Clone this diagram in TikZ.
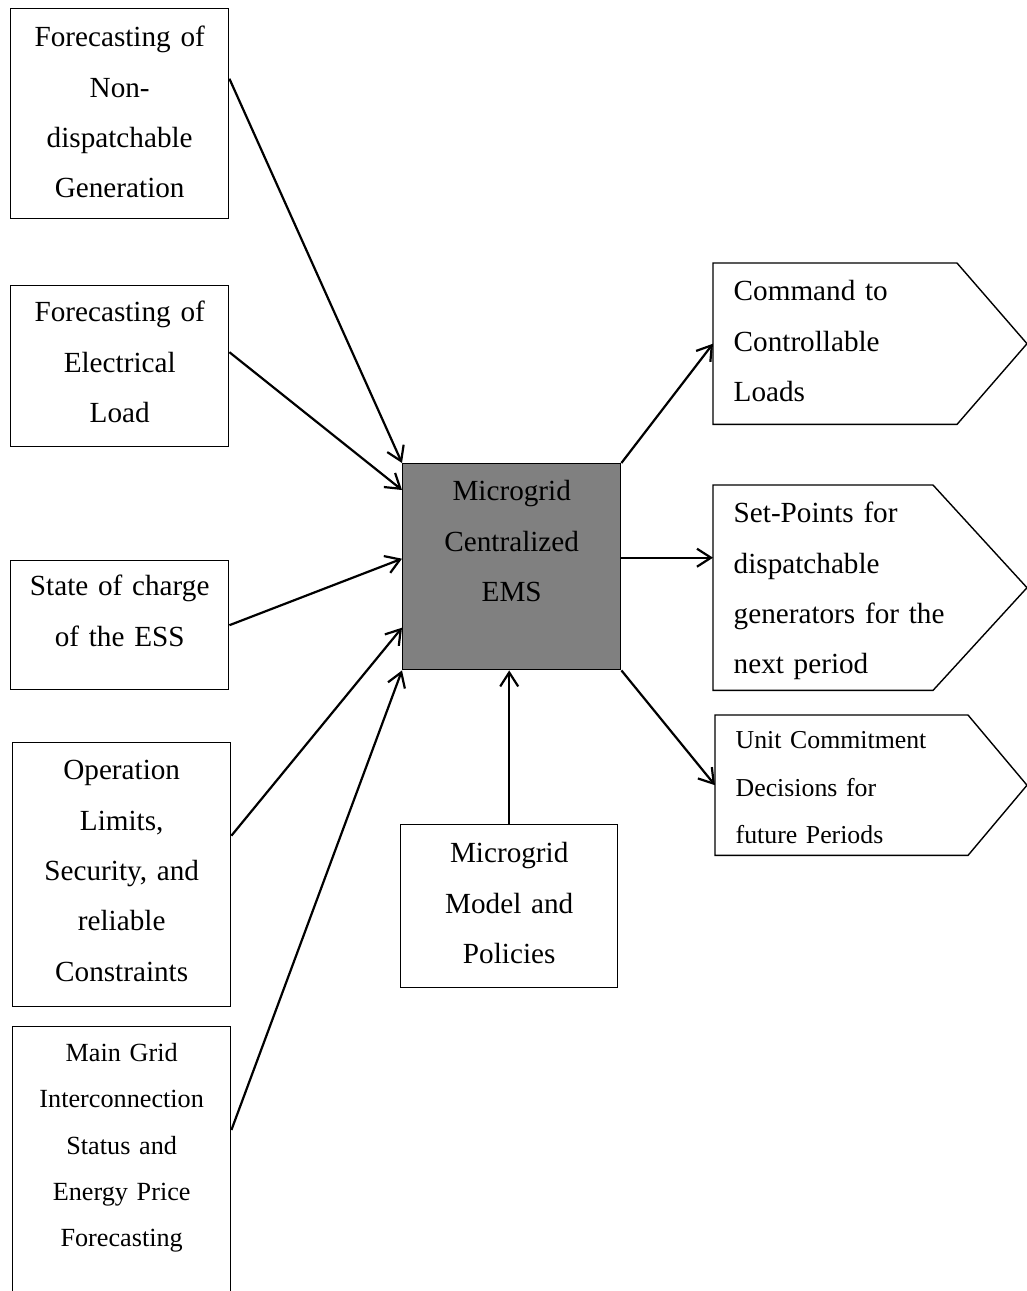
\documentclass[tikz,border=0pt]{standalone}
\usepackage{fontspec}
\setmainfont{Liberation Serif}
\usetikzlibrary{arrows.meta}

\begin{document}
\begin{tikzpicture}[x=0.5pt, y=-0.5pt,
                    every node/.style={inner sep=0pt, line width=0.7pt},
                    big/.style={font=\fontsize{14.6}{25.2}\selectfont},
                    small/.style={font=\fontsize{13.1}{23.1}\selectfont},
                    inbox/.style={draw, anchor=north west, text width=109pt, align=center},
                    outbox/.style={anchor=north west, text width=120pt, inner xsep=10pt, align=left},
                    link/.style={-{Straight Barb[length=7pt,width=9pt]}, line width=1.1pt}]
                \useasboundingbox (0,0) rectangle (1027,1291);

                % inputs
                \node[inbox, big, text height=19pt, text depth=86pt] (ndg) at (10,8)
                    {Forecasting of\\Non-\\dispatchable\\Generation};
                \node[inbox, big, text height=18pt, text depth=62.5pt] (load) at (10,285)
                    {Forecasting of\\Electrical\\Load};
                \node[inbox, big, text height=17.5pt, text depth=47pt] (soc) at (10,560)
                    {State of charge\\of the ESS};
                \node[inbox, big, text height=18.5pt, text depth=113.5pt] (lim) at (12,742)
                    {Operation\\Limits,\\Security, and\\reliable\\Constraints};
                \node[inbox, small, text height=17.5pt, text depth=130pt] (grid) at (12,1026)
                    {Main Grid\\Interconnection\\Status and\\Energy Price\\Forecasting};

                % EMS and model
                \node[inbox, big, fill=black!50, text height=18.5pt, text depth=84.5pt] (ems) at (402,463)
                    {Microgrid\\Centralized\\EMS};
                \node[inbox, big, text width=108.5pt, text height=19pt, text depth=62.5pt] (model) at (400,824)
                    {Microgrid\\Model and\\Policies};

                % outputs
                \node[outbox, big, text height=18.5pt, text depth=61.5pt] (cmd) at (713,263)
                    {Command to\\Controllable\\Loads};
                \node[outbox, big, text height=18.5pt, text depth=83.5pt] (set) at (713,485)
                    {Set-Points for\\dispatchable\\generators for the\\next period};
                \node[outbox, font=\fontsize{12.9}{23.75}\selectfont, text height=16.5pt, text depth=53pt] (uc) at (715,715)
                    {Unit Commitment\\Decisions for\\future Periods};
                \foreach \n/\w/\t in {cmd/122/157, set/110/157, uc/126.5/156}
                    \draw[line width=0.7pt] (\n.north west) -- ([xshift=\w pt]\n.north west) -- ([xshift=\t pt]\n.west)
                        -- ([xshift=\w pt]\n.south west) -- (\n.south west) -- cycle;

                % arrows
                \draw[link] ([yshift=17.5pt]ndg.east) -- (ems.north west);
                \draw[link] ([yshift=7pt]load.east) -- ([yshift=-13.5pt]ems.north west);
                \draw[link] (soc.east) -- ([yshift=4pt]ems.west);
                \draw[link] ([yshift=19.5pt]lim.east) -- ([yshift=-30.5pt]ems.west);
                \draw[link] ([yshift=-52pt]grid.north east) -- (ems.south west);
                \draw[link] (model.north) -- (model.north |- ems.south);
                \draw[link] (ems.north east) -- (cmd.west);
                \draw[link] ([yshift=4.5pt]ems.east) -- ([yshift=4.5pt]ems.east -| set.west);
                \draw[link] (ems.south east) -- (uc.west);
            \end{tikzpicture}
\end{document}
